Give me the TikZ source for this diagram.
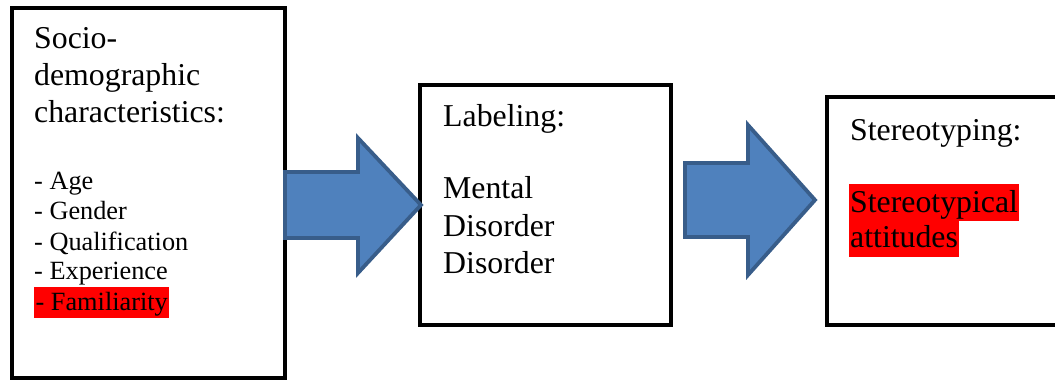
\documentclass[tikz,border=0pt]{standalone}
\usepackage{fontspec}
\setmainfont{Liberation Serif}
\definecolor{arrowfill}{HTML}{4F81BD}
\definecolor{arrowline}{HTML}{385D8A}
\definecolor{hlred}{HTML}{FF0000}
\begin{document}
\begin{tikzpicture}[x=1pt,y=-1pt,
  boxstyle/.style={draw=black, line width=4pt, fill=white},
  blockarrow/.style={draw=arrowline, fill=arrowfill, line width=3.8pt, line join=miter},
  titletext/.style={anchor=base west, inner sep=0pt, font=\fontsize{31.8}{37}\selectfont},
  listtext/.style={anchor=base west, inner sep=0pt, font=\fontsize{26.3}{30}\selectfont},
  hl/.style={fill=hlred, inner xsep=1.5pt, inner ysep=0pt}]
\useasboundingbox (0,0) rectangle (1055,381);
% boxes
\draw[boxstyle] (12,8) rectangle (285,378);
\draw[boxstyle] (420,85) rectangle (671,325);
\draw[boxstyle] (827,97) rectangle (1062,325);
\coordinate (b1e) at (285,205);
% arrows
\draw[blockarrow] (b1e |- 0,172) -- (358,172) -- (358,138) -- (421,205) -- (358,273) -- (358,238) -- (b1e |- 0,238) -- cycle;
\draw[blockarrow] (685,163) -- (748,163) -- (748,125) -- (815,200) -- (748,275) -- (748,237) -- (685,237) -- cycle;
% box 1 text
\node[titletext] (t1a) at (34,48) {Socio-};
\node[titletext] (t1b) at (34,85) {demographic};
\node[titletext] (t1c) at (34,122) {characteristics:};
\node[listtext] (l1) at (34,189) {- Age};
\node[listtext] (l2) at (34,219) {- Gender};
\node[listtext] (l3) at (34,250) {- Qualification};
\node[listtext] (l4) at (34,279) {- Experience};
\node[listtext, hl, inner xsep=0pt, text height=23pt, text depth=8pt, minimum width=135pt] (l5) at (34,310) {- Familiarity};
% box 2 text
\node[titletext] (t2a) at (443,126) {Labeling:};
\node[titletext] (t2b) at (443,198) {Mental};
\node[titletext] (t2c) at (443,236) {Disorder};
\node[titletext] (t2d) at (443,273) {Disorder};
% box 3 text
\node[titletext] (t3a) at (850,140) {Stereotyping:};
\node[titletext, hl, text height=28pt, text depth=9pt] (t3b) at (848.5,212) {Stereotypical};
\node[titletext, hl, text height=26pt, text depth=10pt] (t3c) at (848.5,247) {attitudes};
\end{tikzpicture}
\end{document}
